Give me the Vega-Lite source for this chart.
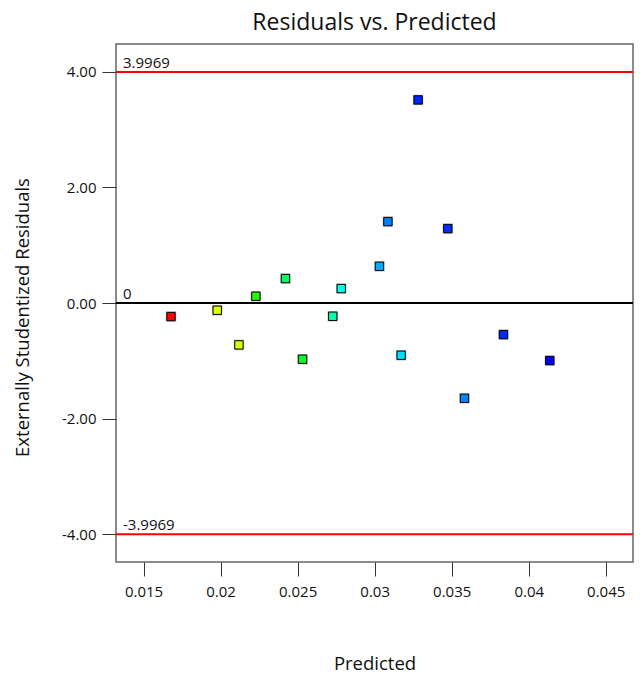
{
  "$schema": "https://vega.github.io/schema/vega-lite/v6.json",
  "width": 517,
  "height": 518,
  "autosize": {"type": "none"},
  "padding": {"left": 116, "top": 44, "right": 11, "bottom": 113},
  "background": "white",
  "config": {
    "font": "Open Sans",
    "view": {"stroke": "#666666", "strokeWidth": 1.5},
    "axis": {
      "grid": false,
      "domain": false,
      "tickSize": 14,
      "tickColor": "#333333",
      "labelColor": "#111111",
      "labelFontSize": 15,
      "titleFontSize": 18.5,
      "titleFontWeight": "normal",
      "titleColor": "#111111",
      "labelFont": "Open Sans",
      "titleFont": "Open Sans"
    }
  },
  "title": {
    "text": "Residuals vs. Predicted",
    "font": "Open Sans",
    "fontSize": 23,
    "fontWeight": "normal",
    "color": "#111111",
    "anchor": "middle",
    "offset": 9
  },
  "datasets": {
    "points": [
      {"Run": 1, "Predicted": 0.01678, "Residual": -0.233},
      {"Run": 2, "Predicted": 0.01978, "Residual": -0.124},
      {"Run": 3, "Predicted": 0.02119, "Residual": -0.723},
      {"Run": 4, "Predicted": 0.02229, "Residual": 0.118},
      {"Run": 5, "Predicted": 0.02421, "Residual": 0.424},
      {"Run": 6, "Predicted": 0.02532, "Residual": -0.971},
      {"Run": 7, "Predicted": 0.02728, "Residual": -0.228},
      {"Run": 8, "Predicted": 0.02783, "Residual": 0.251},
      {"Run": 9, "Predicted": 0.03031, "Residual": 0.636},
      {"Run": 10, "Predicted": 0.03086, "Residual": 1.409},
      {"Run": 11, "Predicted": 0.03172, "Residual": -0.902},
      {"Run": 12, "Predicted": 0.03282, "Residual": 3.513},
      {"Run": 13, "Predicted": 0.03475, "Residual": 1.288},
      {"Run": 14, "Predicted": 0.03583, "Residual": -1.646},
      {"Run": 15, "Predicted": 0.03836, "Residual": -0.545},
      {"Run": 16, "Predicted": 0.04137, "Residual": -0.994}
    ],
    "refs": [
      {"Residual": 3.9969, "label": "3.9969", "kind": "limit"},
      {"Residual": -3.9969, "label": "-3.9969", "kind": "limit"},
      {"Residual": 0, "label": "0", "kind": "zero"}
    ]
  },
  "layer": [
    {
      "data": {"name": "refs"},
      "transform": [{"filter": "datum.kind === 'limit'"}],
      "mark": {"type": "rule", "color": "#FF0000", "strokeWidth": 2},
      "encoding": {
        "y": {
          "field": "Residual",
          "type": "quantitative",
          "scale": {"domain": [-4.477, 4.48], "nice": false, "zero": false},
          "axis": {
            "title": "Externally Studentized Residuals",
            "values": [-4, -2, 0, 2, 4],
            "labelExpr": "datum.value < 0 ? '-' + format(-datum.value, '.2f') : format(datum.value, '.2f')",
            "labelPadding": 6,
            "titleX": -94,
            "titleY": 273,
            "titleBaseline": "middle"
          }
        }
      }
    },
    {
      "data": {"name": "refs"},
      "transform": [{"filter": "datum.kind === 'zero'"}],
      "mark": {"type": "rule", "color": "#000000", "strokeWidth": 2},
      "encoding": {
        "y": {"field": "Residual", "type": "quantitative"}
      }
    },
    {
      "data": {"name": "refs"},
      "mark": {"type": "text", "align": "left", "baseline": "alphabetic", "dx": 7, "dy": -4, "fontSize": 15, "color": "#111111", "font": "Open Sans"},
      "encoding": {
        "x": {"datum": 0.01321, "type": "quantitative"},
        "y": {"field": "Residual", "type": "quantitative"},
        "text": {"field": "label"}
      }
    },
    {
      "data": {"name": "points"},
      "mark": {"type": "point", "shape": "square", "filled": true, "size": 110, "color": "#9a9a9a", "opacity": 0.6},
      "encoding": {
        "x": {"field": "Predicted", "type": "quantitative"},
        "y": {"field": "Residual", "type": "quantitative"}
      }
    },
    {
      "data": {"name": "points"},
      "mark": {"type": "point", "shape": "square", "filled": true, "size": 70, "stroke": "#000000", "strokeWidth": 1, "opacity": 1},
      "encoding": {
        "x": {
          "field": "Predicted",
          "type": "quantitative",
          "scale": {"domain": [0.01321, 0.04677], "nice": false, "zero": false},
          "axis": {
            "title": "Predicted",
            "values": [0.015, 0.02, 0.025, 0.03, 0.035, 0.04, 0.045],
            "format": "~g",
            "labelPadding": 8,
            "titleY": 101,
            "titleBaseline": "middle"
          }
        },
        "y": {"field": "Residual", "type": "quantitative"},
        "fill": {
          "field": "Run",
          "type": "ordinal",
          "legend": null,
          "scale": {
            "domain": [1, 2, 3, 4, 5, 6, 7, 8, 9, 10, 11, 12, 13, 14, 15, 16],
            "range": ["#FF0000", "#DDFF00", "#D4FF00", "#22FF00", "#00FF5E", "#00FF22", "#00FFAA", "#00FFE6", "#00AEFF", "#0080FF", "#00DDFF", "#0022FF", "#0030FF", "#0088FF", "#0028FF", "#0000FF"]
          }
        }
      }
    }
  ]
}
